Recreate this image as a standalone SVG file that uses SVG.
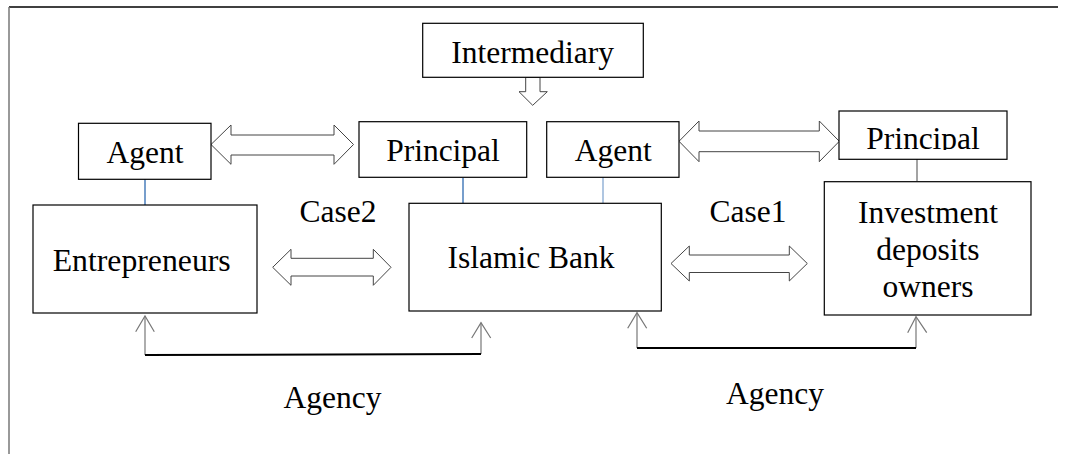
<svg xmlns="http://www.w3.org/2000/svg" width="1067" height="454" viewBox="0 0 1067 454">
<style>
.box{fill:#fff;stroke:#000;stroke-width:1.2}
.dbl{fill:#fff;stroke:#444;stroke-width:1}
.blue{stroke:#4a7ebb;stroke-width:1.5}
.lblue{stroke:#95b3d7;stroke-width:1.5}
.thin{stroke:#777;stroke-width:1.2;fill:none}
.thick{stroke:#000;stroke-width:2;fill:none}
</style>
<defs>
<clipPath id="clipP2"><rect x="839" y="111" width="168" height="39"/></clipPath>
</defs>
<rect width="1067" height="454" fill="#fff"/>
<g id="frame">
<line x1="9" y1="7" x2="1058" y2="7" stroke="#000" stroke-width="1.5"/>
<line x1="9" y1="7" x2="9" y2="454" stroke="#777" stroke-width="1.5"/>
</g>
<g id="connectors">
<line class="blue" x1="145" y1="179" x2="145" y2="205"/>
<line class="blue" x1="463" y1="178" x2="463" y2="203"/>
<line class="lblue" x1="603" y1="177" x2="603" y2="203"/>
<line x1="917" y1="159" x2="917" y2="181" stroke="#666" stroke-width="1.2"/>
<polygon class="dbl" points="211,144.5 231,125 231,135 334,135 334,125 353.5,144.5 334,164.3 334,155 231,155 231,164.3"/>
<polygon class="dbl" points="679,141.3 699,121 699,131 819.3,131 819.3,121 839.3,141.3 819.3,161.7 819.3,151.7 699,151.7 699,161.7"/>
<polygon class="dbl" points="272.7,267.3 291,249.3 291,258.3 373.3,258.3 373.3,249.3 391,267.3 373.3,285.3 373.3,276 291,276 291,285.3"/>
<polygon class="dbl" points="671,263.5 689.3,246 689.3,255 789.3,255 789.3,246 807.3,263.5 789.3,281 789.3,272.5 689.3,272.5 689.3,281"/>
<polygon class="dbl" points="525.7,77.3 540,77.3 540,91.7 547.3,91.7 532.7,105.3 519,91.7 525.7,91.7"/>
<polyline class="thin" points="145,355 145,316"/>
<polyline class="thin" points="135.7,331.7 145,316 154.3,331.7"/>
<polyline class="thin" points="481,354 481,322.7"/>
<polyline class="thin" points="471.7,338 481,322.7 490.7,338"/>
<line class="thick" x1="145" y1="355" x2="481" y2="354"/>
<polyline class="thin" points="637,348 637,312.7"/>
<polyline class="thin" points="627.7,328.3 637,312.7 646.7,328.3"/>
<polyline class="thin" points="916,348 916,316.7"/>
<polyline class="thin" points="907.7,332.7 916,316.7 926.7,332.7"/>
<line class="thick" x1="637" y1="348" x2="916" y2="348"/>
</g>
<g font-family="'Liberation Serif', serif" font-size="31.5" fill="#000" text-anchor="middle">
<g id="intermediary">
<rect class="box" x="422.7" y="23.3" width="220.6" height="54"/>
<text x="532.7" y="63.3">Intermediary</text>
</g>
<g id="agent1">
<rect class="box" x="78.5" y="123.3" width="132.5" height="56"/>
<text x="145" y="163.3">Agent</text>
</g>
<g id="principal1">
<rect class="box" x="359" y="121.7" width="167.7" height="55.6"/>
<text x="443" y="160.7">Principal</text>
</g>
<g id="agent2">
<rect class="box" x="546.7" y="121.7" width="132.3" height="55.6"/>
<text x="613.3" y="160.7">Agent</text>
</g>
<g id="principal2">
<rect class="box" x="839" y="111" width="168" height="48.3"/>
<text x="923" y="149" clip-path="url(#clipP2)">Principal</text>
</g>
<g id="entrepreneurs">
<rect class="box" x="33" y="205" width="224" height="108"/>
<text x="141.7" y="271" textLength="178" lengthAdjust="spacingAndGlyphs">Entrepreneurs</text>
</g>
<g id="islamicbank">
<rect class="box" x="409" y="203.3" width="252.3" height="107.7"/>
<text x="531" y="268.3">Islamic Bank</text>
</g>
<g id="investors">
<rect class="box" x="824.3" y="181.7" width="206.7" height="133.3"/>
<text x="928" y="222.7">Investment</text>
<text x="928" y="260">deposits</text>
<text x="928" y="296.7">owners</text>
</g>
<g id="labels">
<text x="338" y="222.3">Case2</text>
<text x="748" y="222.3">Case1</text>
<text x="332.5" y="407.7">Agency</text>
<text x="775" y="404.3">Agency</text>
</g>
</g>
</svg>
